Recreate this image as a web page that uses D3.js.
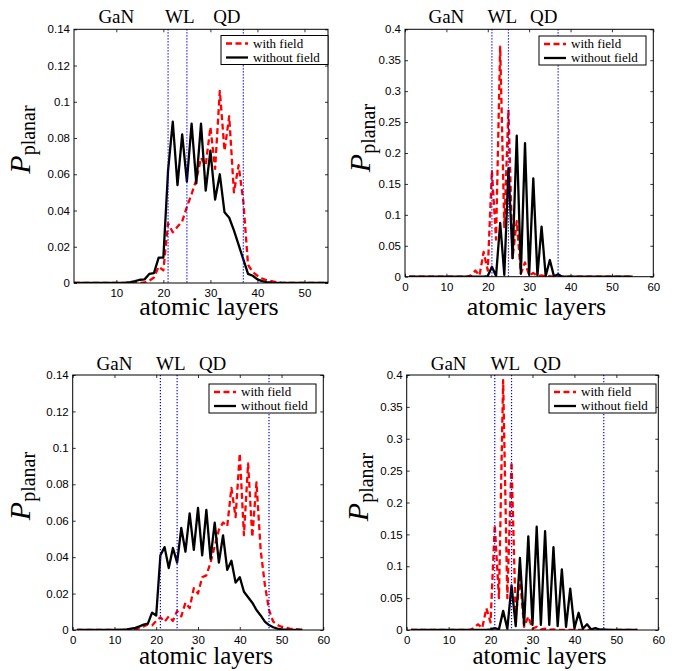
<!DOCTYPE html>
<html><head><meta charset="utf-8">
<script src="https://cdn.jsdelivr.net/npm/d3@7"></script>
<style>body{margin:0;background:#fff}svg{display:block}</style>
</head><body>
<svg id="c" width="684" height="671"></svg>
<script>
// ---------- data ----------
const layers = d3.range(1, 56); // atomic layer index 1..55
const seriesNames = ["with field", "without field"];
const regionLabels = ["GaN", "WL", "QD"];
const regionLabelX = [10, 23.5, 33.5];
const boundariesTop = [21, 25, 37];
const boundariesBottom = [21, 25, 47];
const xTicksA = [10, 20, 30, 40, 50];
const xTicksB = [0, 10, 20, 30, 40, 50, 60];
const xTickLabelsA = ["10", "20", "30", "40", "50"];
const xTickLabelsB = ["0", "10", "20", "30", "40", "50", "60"];
const yTicksSmall = [0, 0.02, 0.04, 0.06, 0.08, 0.1, 0.12, 0.14];
const yTickLabelsSmall = ["0", "0.02", "0.04", "0.06", "0.08", "0.1", "0.12", "0.14"];
const yTicksLarge = [0, 0.05, 0.1, 0.15, 0.2, 0.25, 0.3, 0.35, 0.4];
const yTickLabelsLarge = ["0", "0.05", "0.1", "0.15", "0.2", "0.25", "0.3", "0.35", "0.4"];

// top-left
const withFieldA = [
 0,0,0,0,0,0,0,0,0,0,
 0,0,0,0,0,0.0003,0.0013,0.003,0.009,0.007,
 0.033,0.028,0.031,0.034,0.042,0.049,0.057,0.069,0.065,0.086,
 0.063,0.106,0.073,0.092,0.050,0.065,0.045,0.010,0.006,0.004,
 0.0025,0.0015,0.001,0.0005,0.0002,0,0,0,0,0,
 0,0,0,0,0];
const withoutFieldA = [
 0,0,0,0,0,0,0,0,0,0,
 0,0.0002,0.0005,0.001,0.0018,0.002,0.005,0.0055,0.014,0.014,
 0.062,0.089,0.054,0.082,0.056,0.088,0.055,0.088,0.051,0.073,
 0.046,0.060,0.039,0.036,0.029,0.021,0.013,0.005,0.004,0.002,
 0.001,0.0005,0.0002,0,0,0,0,0,0,0,
 0,0,0,0,0];
// top-right
const withFieldB = [
 0,0,0,0,0,0,0,0,0,0,
 0,0,0,0,0,0.002,0.010,0.002,0.040,0.010,
 0.172,0.060,0.372,0.080,0.270,0.030,0.090,0.005,0.023,0.002,
 0.006,0.001,0.002,0.0005,0.001,0,0,0,0,0,
 0,0,0,0,0,0,0,0,0,0,
 0,0,0,0,0];
const withoutFieldB = [
 0,0,0,0,0,0,0,0,0,0,
 0,0,0,0,0,0,0,0,0,0.001,
 0.016,0.001,0.087,0.003,0.175,0.030,0.228,0.005,0.216,0.003,
 0.159,0.002,0.081,0.001,0.027,0.0005,0.004,0,0,0,
 0,0,0,0,0,0,0,0,0,0,
 0,0,0,0,0];
// bottom-left
const withFieldC = [
 0,0,0,0,0,0,0,0,0,0,
 0,0,0,0,0.0003,0.001,0.002,0.003,0.0025,0.005,
 0.007,0.0045,0.0075,0.005,0.0105,0.0075,0.015,0.012,0.023,0.020,
 0.029,0.030,0.037,0.046,0.055,0.059,0.057,0.078,0.062,0.097,
 0.052,0.0915,0.051,0.081,0.044,0.025,0.011,0.0046,0.0027,0.0018,
 0.0012,0.0008,0.0005,0.0003,0];
const withoutFieldC = [
 0,0,0,0,0,0,0,0,0,0,
 0,0.0002,0.0004,0.0008,0.0012,0.002,0.003,0.0035,0.0095,0.008,
 0.041,0.0455,0.034,0.045,0.037,0.056,0.043,0.064,0.044,0.067,
 0.041,0.066,0.039,0.059,0.037,0.052,0.033,0.038,0.026,0.029,
 0.021,0.018,0.015,0.011,0.008,0.0046,0.0027,0.0015,0.0008,0.0004,
 0.0002,0,0,0,0];
// bottom-right
const withFieldD = [
 0,0,0,0,0,0,0,0,0,0,
 0,0,0,0,0,0.003,0.009,0.003,0.034,0.012,
 0.165,0.050,0.392,0.050,0.264,0.020,0.082,0.005,0.021,0.002,
 0.005,0.001,0.002,0.0005,0.001,0,0,0,0,0,
 0,0,0,0,0,0,0,0,0,0,
 0,0,0,0,0];
const withoutFieldD = [
 0,0,0,0,0,0,0,0,0,0,
 0,0,0,0,0,0,0,0,0,0.001,
 0.003,0.001,0.030,0.002,0.070,0.006,0.113,0.008,0.147,0.008,
 0.162,0.008,0.155,0.008,0.130,0.006,0.095,0.005,0.065,0.003,
 0.027,0.002,0.009,0.001,0.003,0.0005,0.001,0,0,0,
 0,0,0,0,0];

// ---------- layout ----------
const panels = [
 {withF: withFieldA, withoutF: withoutFieldA, xDom: [1, 55], xT: xTicksA, xL: xTickLabelsA, yDom: [0, 0.14], yT: yTicksSmall, yL: yTickLabelsSmall, bounds: boundariesTop,
  box: {l: 74, r: 328, t: 29.3, b: 283}, lg: {r: 328, t: 35.5}, yl: {x: 30, y: 139.5}, xl: {x: 209, y: 315, fs: 26}, topY: 22.7},
 {withF: withFieldB, withoutF: withoutFieldB, xDom: [0, 60], xT: xTicksB, xL: xTickLabelsB, yDom: [0, 0.4], yT: yTicksLarge, yL: yTickLabelsLarge, bounds: boundariesTop,
  box: {l: 405, r: 653.3, t: 29.3, b: 276.7}, lg: {r: 646, t: 36}, yl: {x: 370, y: 138}, xl: {x: 536.5, y: 315, fs: 26}, topY: 22.7},
 {withF: withFieldC, withoutF: withoutFieldC, xDom: [0, 60], xT: xTicksB, xL: xTickLabelsB, yDom: [0, 0.14], yT: yTicksSmall, yL: yTickLabelsSmall, bounds: boundariesBottom,
  box: {l: 72.7, r: 323.3, t: 375, b: 630}, lg: {r: 316, t: 384}, yl: {x: 30, y: 486}, xl: {x: 206, y: 663.5, fs: 25}, topY: 369.5},
 {withF: withFieldD, withoutF: withoutFieldD, xDom: [0, 60], xT: xTicksB, xL: xTickLabelsB, yDom: [0, 0.4], yT: yTicksLarge, yL: yTickLabelsLarge, bounds: boundariesBottom,
  box: {l: 406.7, r: 658.3, t: 375, b: 630}, lg: {r: 656, t: 384}, yl: {x: 368, y: 487}, xl: {x: 539.5, y: 663.5, fs: 25}, topY: 369.5}
];

const SERIF = "'Liberation Serif','Times New Roman',serif";
const SANS = "'Liberation Sans',Arial,Helvetica,sans-serif";
const svg = d3.select("#c");

panels.forEach((p, k) => {
  const {l, r, t, b} = p.box;
  const x = d3.scaleLinear().domain(p.xDom).range([l, r]);
  const y = d3.scaleLinear().domain(p.yDom).range([b, t]);
  const g = svg.append("g");

  const clipId = "clip" + k;
  g.append("clipPath").attr("id", clipId).append("rect")
    .attr("x", l).attr("y", t - 2).attr("width", r - l).attr("height", b - t + 2);

  const line = d3.line().x((d, i) => x(layers[i])).y(d => y(d));
  const plot = g.append("g").attr("clip-path", `url(#${clipId})`);

  plot.append("path").datum(p.withF).attr("d", line)
    .attr("fill", "none").attr("stroke", "#ff0000").attr("stroke-width", 2.3)
    .attr("stroke-dasharray", "6,3.5").attr("stroke-linejoin", "round");
  plot.append("path").datum(p.withoutF).attr("d", line)
    .attr("fill", "none").attr("stroke", "#000").attr("stroke-width", 2.3)
    .attr("stroke-linejoin", "round");

  plot.selectAll("line.bd").data(p.bounds).enter().append("line")
    .attr("x1", d => x(d)).attr("x2", d => x(d)).attr("y1", t).attr("y2", b)
    .attr("stroke", "#0000ff").attr("stroke-width", 1.2).attr("stroke-dasharray", "1.2,1.8");

  // axes
  const fmtX = (d, i) => p.xL[i];
  const fmtY = (d, i) => p.yL[i];
  const axB = g.append("g").attr("transform", `translate(0,${b})`)
    .call(d3.axisBottom(x).tickValues(p.xT).tickFormat(fmtX).tickSizeInner(-3).tickSizeOuter(0).tickPadding(6));
  const axT = g.append("g").attr("transform", `translate(0,${t})`)
    .call(d3.axisTop(x).tickValues(p.xT).tickFormat("").tickSizeInner(-3).tickSizeOuter(0));
  const axL = g.append("g").attr("transform", `translate(${l},0)`)
    .call(d3.axisLeft(y).tickValues(p.yT).tickFormat(fmtY).tickSizeInner(-3).tickSizeOuter(0).tickPadding(4));
  const axR = g.append("g").attr("transform", `translate(${r},0)`)
    .call(d3.axisRight(y).tickValues(p.yT).tickFormat("").tickSizeInner(-3).tickSizeOuter(0));
  [axB, axT, axL, axR].forEach(a => {
    a.select(".domain").remove();
    a.selectAll(".tick line").attr("stroke", "#000").attr("stroke-width", 0.8);
    a.selectAll("text").attr("font-family", SANS).attr("font-size", 11.5).attr("fill", "#000");
  });

  g.append("rect").attr("x", l).attr("y", t).attr("width", r - l).attr("height", b - t)
    .attr("fill", "none").attr("stroke", "#000").attr("stroke-width", 1);

  // region labels
  g.selectAll("text.rg").data(regionLabels).enter().append("text")
    .attr("x", (d, i) => x(regionLabelX[i])).attr("y", p.topY)
    .attr("text-anchor", "middle").attr("font-family", SERIF).attr("font-size", 19)
    .text(d => d);

  // legend
  const lw = 107, lh = 29, lx = p.lg.r - lw, ly = p.lg.t;
  const lg = g.append("g");
  lg.append("rect").attr("x", lx).attr("y", ly).attr("width", lw).attr("height", lh)
    .attr("fill", "#fff").attr("stroke", "#000").attr("stroke-width", 1);
  const styles = [{c: "#ff0000", dash: "6,3.5"}, {c: "#000", dash: null}];
  seriesNames.forEach((s, i) => {
    const yy = ly + 8 + i * 14;
    lg.append("line").attr("x1", lx + 5).attr("x2", lx + 27).attr("y1", yy).attr("y2", yy)
      .attr("stroke", styles[i].c).attr("stroke-width", 2.3)
      .attr("stroke-dasharray", styles[i].dash);
    lg.append("text").attr("x", lx + 32).attr("y", yy + 4)
      .attr("font-family", SERIF).attr("font-size", 13).text(s);
  });

  // axis labels
  g.append("text").attr("x", p.xl.x).attr("y", p.xl.y).attr("text-anchor", "middle")
    .attr("font-family", SERIF).attr("font-size", p.xl.fs).text("atomic layers");
  const yt = g.append("text").attr("transform", `translate(${p.yl.x},${p.yl.y}) rotate(-90)`)
    .attr("text-anchor", "middle").attr("font-family", SERIF);
  yt.append("tspan").attr("font-size", 30).attr("font-style", "italic").text("P");
  yt.append("tspan").attr("font-size", 20).attr("dy", 5).text("planar");
});
</script>
</body></html>
